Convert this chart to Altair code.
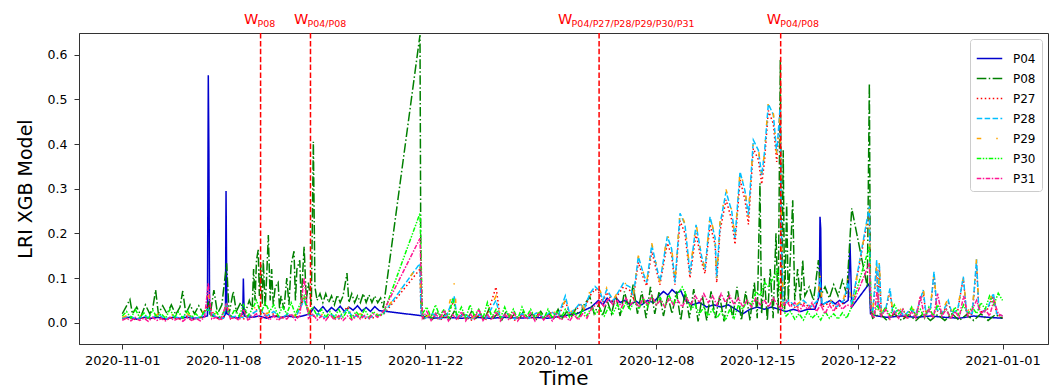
import altair as alt
import pandas as pd

NAMES = ["P04", "P08", "P27", "P28", "P29", "P30", "P31"]
COLORS = ["#0000cd", "#008000", "#ff0000", "#00bfff", "#ffa500", "#00ff00", "#ff1493"]
DASHES = [[1, 0], [9.6, 2.4, 1.5, 2.4], [1.5, 2.5], [5.5, 2.4],
          [4.5, 15, 1.5, 15], [4.5, 1.5, 1.5, 1.5, 1.5, 1.5], [4.5, 1.5, 1.5, 1.5]]

# days since 2020-11-01 00:00
P04_days = [0.0,0.5,1.0,1.5,2.0,2.5,3.0,3.5,4.0,4.5,5.0,5.5,
            5.9,5.96,6.0,6.05,6.5,7.0,7.15,7.19,7.25,7.7,8.0,8.35,8.39,8.45,
            9.0,9.5,10.0,10.5,11.0,11.5,12.0,12.5,13.0,
            13.3,13.6,13.9,14.2,14.5,14.8,15.1,15.4,15.7,16.0,16.3,16.6,16.9,17.2,17.5,17.8,
            18.09,
            20.63,21.5,22.5,23.5,24.5,25.5,26.5,27.5,28.5,29.5,30.5,31.5,32.5,
            33.0,33.3,33.6,33.9,34.2,34.5,34.8,
            35.2,35.6,36.0,36.4,36.8,
            37.2,37.5,37.8,38.1,38.4,38.7,
            39.0,39.5,40.0,40.5,41.0,41.5,42.0,42.5,43.0,43.5,44.0,44.5,45.0,45.5,46.0,46.5,47.0,47.5,48.0,
            48.3,48.35,48.4,48.45,
            48.8,49.1,49.4,49.7,50.0,50.3,
            50.43,50.55,
            51.77,51.85,52.3,53.0,54.0,55.0,56.0,57.0,58.0,59.0,60.0,61.0]
P04_vals = [0.01,0.012,0.008,0.012,0.01,0.012,0.008,0.012,0.01,0.012,0.01,0.012,
            0.015,0.554,0.387,0.02,0.012,0.01,0.02,0.295,0.02,0.012,0.01,0.02,0.099,0.015,
            0.012,0.015,0.01,0.015,0.012,0.015,0.012,0.015,0.02,
            0.035,0.025,0.036,0.024,0.034,0.026,0.037,0.025,0.035,0.028,0.038,0.026,0.034,0.025,0.036,0.027,
            0.026,
            0.016,0.01,0.012,0.01,0.012,0.01,0.012,0.01,0.012,0.01,0.015,0.02,0.035,
            0.05,0.04,0.055,0.045,0.056,0.045,0.05,
            0.04,0.048,0.04,0.05,0.045,
            0.06,0.07,0.062,0.074,0.065,0.072,
            0.05,0.04,0.045,0.035,0.04,0.035,0.04,0.03,0.02,0.03,0.035,0.03,0.035,0.03,0.025,0.03,0.025,0.03,0.03,
            0.06,0.237,0.21,0.04,
            0.045,0.05,0.042,0.05,0.043,0.05,
            0.178,0.035,
            0.088,0.02,0.015,0.012,0.015,0.012,0.015,0.012,0.01,0.015,0.012,0.01]

P08_days = [0.0,0.25,0.53,0.7,1.0,1.3,1.6,1.9,2.1,2.31,
            2.5,2.8,3.1,3.4,3.7,4.0,4.19,4.4,4.7,5.0,
            5.3,5.6,5.96,6.1,6.35,6.6,6.9,7.23,7.4,7.69,
            7.9,8.2,8.5,8.8,9.0,9.1,9.2,9.3,9.42,9.5,
            9.6,9.7,9.77,9.9,10.0,10.12,10.25,10.35,10.46,10.6,
            10.8,10.9,11.0,11.2,11.4,11.55,11.7,11.9,12.0,12.1,
            12.3,12.4,12.5,12.6,12.75,12.9,13.1,13.24,13.35,13.5,
            13.7,13.9,14.1,14.3,14.5,14.7,14.9,15.1,15.3,15.57,
            15.7,15.9,16.1,16.3,16.5,16.7,16.9,17.1,17.3,17.5,
            17.7,17.9,18.09,
            20.63,20.7,20.9,21.2,21.5,21.8,22.1,22.4,22.7,23.0,
            23.3,23.6,23.9,24.2,24.5,24.8,25.1,25.4,25.7,26.0,
            26.3,26.6,26.9,27.2,27.5,27.8,28.1,28.4,28.7,29.0,
            29.3,29.6,29.9,30.2,30.5,30.8,31.1,31.4,31.7,32.0,
            32.4,32.7,33.0,33.3,33.6,33.9,34.2,34.5,34.8,35.1,
            35.4,35.7,36.0,36.3,36.6,36.9,37.2,37.5,37.8,38.1,
            38.4,38.7,39.0,39.3,39.6,39.9,40.2,40.5,40.8,41.1,
            41.4,41.7,42.0,42.3,42.6,42.9,43.2,43.5,43.8,44.0,
            44.19,44.3,44.5,44.7,44.9,45.1,45.3,45.45,45.6,45.7,
            45.8,45.9,46.04,46.15,46.3,46.46,46.6,46.8,47.0,47.15,
            47.3,47.6,47.9,48.24,48.4,48.7,49.0,49.3,49.6,49.9,
            50.2,50.55,
            51.63,51.77,51.85,52.0,52.5,53.0,53.5,54.0,54.5,55.0,55.5,56.0,56.5,57.0,57.5,58.0,58.5,59.0,59.5,60.0,60.5,61.0]
P08_vals = [0.02,0.035,0.052,0.02,0.035,0.015,0.04,0.02,0.03,0.073,
            0.02,0.038,0.02,0.04,0.018,0.035,0.071,0.02,0.04,0.02,
            0.038,0.02,0.045,0.02,0.073,0.02,0.04,0.133,0.02,0.07,
            0.025,0.045,0.02,0.05,0.03,0.12,0.05,0.14,0.163,0.06,
            0.13,0.04,0.14,0.035,0.1,0.196,0.05,0.12,0.04,0.08,
            0.09,0.03,0.06,0.03,0.1,0.04,0.13,0.16,0.05,0.12,
            0.14,0.04,0.11,0.17,0.05,0.09,0.04,0.405,0.08,0.05,
            0.065,0.045,0.065,0.045,0.06,0.04,0.062,0.045,0.06,0.111,
            0.045,0.065,0.045,0.06,0.045,0.065,0.045,0.062,0.045,0.06,
            0.045,0.055,0.033,
            0.644,0.03,0.01,0.02,0.008,0.025,0.01,0.02,0.008,0.025,
            0.01,0.02,0.006,0.025,0.01,0.02,0.008,0.03,0.01,0.02,
            0.006,0.025,0.01,0.02,0.008,0.025,0.01,0.02,0.008,0.025,
            0.01,0.02,0.008,0.03,0.01,0.025,0.012,0.03,0.015,0.04,
            0.058,0.02,0.04,0.015,0.05,0.02,0.06,0.015,0.07,0.03,
            0.085,0.02,0.07,0.01,0.08,0.02,0.07,0.015,0.06,0.02,
            0.07,0.005,0.07,0.01,0.075,0.003,0.06,0.005,0.07,0.01,
            0.06,0.003,0.07,0.01,0.08,0.005,0.07,0.005,0.09,0.01,
            0.312,0.02,0.1,0.005,0.12,0.01,0.2,0.02,0.588,0.05,
            0.386,0.03,0.267,0.05,0.15,0.274,0.05,0.12,0.05,0.14,
            0.06,0.08,0.05,0.14,0.06,0.08,0.055,0.085,0.06,0.095,
            0.065,0.256,
            0.08,0.536,0.03,0.01,0.02,0.005,0.02,0.005,0.018,0.005,0.02,0.005,0.018,0.005,0.02,0.005,0.018,0.005,0.02,0.005,0.018,0.01]

# shared sample times of P27 / P28 / P29
C_days = [0.0,0.5,1.0,1.5,2.0,2.5,3.0,3.5,4.0,4.5,
          5.0,5.5,5.96,6.5,7.0,7.2,7.5,8.0,8.5,9.0,
          9.5,10.0,10.5,11.0,11.5,12.0,12.6,13.0,13.5,14.0,
          14.5,15.0,15.57,16.0,16.5,17.0,17.5,18.09,
          20.63,20.7,21.0,21.5,22.0,22.5,23.0,23.2,23.7,24.2,
          24.7,25.2,25.9,26.2,26.7,27.2,27.7,28.2,28.7,29.2,
          29.7,30.2,30.7,31.0,31.5,31.72,32.0,32.4,32.76,33.11,
          33.3,33.57,34.03,34.4,34.72,35.18,35.42,35.76,36.11,36.34,
          36.69,37.03,37.26,37.77,38.07,38.3,38.65,38.99,39.34,39.76,
          40.15,40.38,40.73,41.08,41.19,41.42,41.84,42.23,42.46,42.81,
          43.15,43.39,43.73,44.08,44.31,44.5,44.77,45.12,45.35,45.58,
          45.7,45.8,46.2,46.7,47.2,47.7,48.2,48.35,48.5,49.0,
          49.5,50.0,50.3,50.55,
          51.77,51.85,52.0,52.28,52.38,52.46,52.6,52.9,53.2,53.4,
          53.8,54.2,54.6,55.0,55.5,55.7,56.0,56.25,56.45,56.8,
          57.24,57.5,57.9,58.28,58.5,58.9,59.2,59.35,59.7,60.0,
          60.36,60.6,61.0]
P28_vals = [0.01,0.015,0.008,0.015,0.01,0.018,0.008,0.015,0.01,0.018,
            0.008,0.015,0.03,0.012,0.01,0.04,0.012,0.015,0.01,0.02,
            0.03,0.015,0.025,0.01,0.02,0.012,0.05,0.015,0.02,0.012,
            0.018,0.01,0.03,0.012,0.018,0.01,0.015,0.02,
            0.133,0.02,0.01,0.02,0.008,0.018,0.06,0.01,0.02,0.008,
            0.018,0.01,0.05,0.01,0.02,0.008,0.02,0.01,0.022,0.012,
            0.025,0.015,0.06,0.02,0.035,0.044,0.03,0.065,0.081,0.07,
            0.05,0.074,0.05,0.07,0.088,0.08,0.06,0.148,0.11,0.09,
            0.174,0.125,0.092,0.193,0.165,0.09,0.245,0.22,0.11,0.219,
            0.148,0.12,0.237,0.19,0.1,0.22,0.293,0.25,0.19,0.338,
            0.295,0.24,0.409,0.386,0.33,0.38,0.49,0.465,0.38,0.48,
            0.15,0.04,0.05,0.035,0.05,0.035,0.05,0.1,0.04,0.05,
            0.035,0.05,0.09,0.04,
            0.26,0.05,0.02,0.14,0.03,0.133,0.02,0.03,0.077,0.02,
            0.03,0.015,0.03,0.02,0.073,0.02,0.03,0.114,0.03,0.02,
            0.05,0.02,0.03,0.103,0.025,0.02,0.142,0.03,0.025,0.035,
            0.066,0.02,0.015]
P29_vals = [0.012,0.018,0.01,0.02,0.012,0.02,0.01,0.018,0.012,0.02,
            0.01,0.018,0.06,0.015,0.012,0.05,0.015,0.018,0.012,0.03,
            0.04,0.02,0.03,0.012,0.025,0.015,0.06,0.02,0.025,0.015,
            0.02,0.012,0.04,0.015,0.02,0.012,0.018,0.022,
            0.133,0.025,0.012,0.022,0.01,0.02,0.088,0.012,0.022,0.01,
            0.02,0.012,0.06,0.012,0.022,0.01,0.022,0.012,0.025,0.015,
            0.028,0.018,0.05,0.022,0.038,0.045,0.032,0.07,0.085,0.072,
            0.055,0.078,0.052,0.072,0.09,0.082,0.062,0.15,0.112,0.088,
            0.178,0.128,0.09,0.198,0.168,0.092,0.25,0.222,0.112,0.222,
            0.15,0.118,0.24,0.192,0.098,0.225,0.298,0.252,0.188,0.34,
            0.298,0.238,0.405,0.39,0.332,0.378,0.495,0.468,0.378,0.47,
            0.16,0.045,0.052,0.04,0.052,0.038,0.055,0.11,0.045,0.052,
            0.04,0.055,0.1,0.042,
            0.255,0.055,0.025,0.13,0.035,0.14,0.025,0.035,0.07,0.025,
            0.035,0.02,0.035,0.025,0.08,0.025,0.035,0.11,0.035,0.025,
            0.055,0.025,0.035,0.1,0.03,0.025,0.145,0.035,0.03,0.04,
            0.07,0.025,0.02]
P27_vals = [0.008,0.012,0.006,0.012,0.008,0.015,0.006,0.012,0.008,0.015,
            0.006,0.012,0.04,0.01,0.008,0.045,0.01,0.012,0.008,0.018,
            0.035,0.012,0.02,0.008,0.018,0.01,0.055,0.012,0.018,0.01,
            0.015,0.008,0.035,0.01,0.015,0.008,0.012,0.018,
            0.12,0.018,0.008,0.018,0.006,0.015,0.05,0.008,0.018,0.006,
            0.015,0.008,0.08,0.008,0.018,0.006,0.018,0.008,0.02,0.01,
            0.022,0.012,0.05,0.018,0.03,0.04,0.028,0.06,0.075,0.065,
            0.045,0.068,0.045,0.065,0.08,0.072,0.055,0.135,0.1,0.082,
            0.16,0.115,0.085,0.178,0.15,0.085,0.228,0.2,0.1,0.2,
            0.135,0.11,0.22,0.175,0.09,0.205,0.275,0.23,0.175,0.32,
            0.275,0.22,0.39,0.365,0.31,0.36,0.475,0.445,0.36,0.465,
            0.14,0.038,0.045,0.032,0.045,0.032,0.045,0.09,0.035,0.045,
            0.032,0.045,0.085,0.038,
            0.25,0.045,0.018,0.12,0.028,0.125,0.018,0.028,0.07,0.018,
            0.028,0.012,0.028,0.018,0.068,0.018,0.028,0.11,0.028,0.018,
            0.045,0.018,0.028,0.1,0.022,0.018,0.13,0.028,0.022,0.032,
            0.06,0.018,0.012]

# shared sample times of P30 / P31
L_days = [0.0,0.3,0.6,0.9,1.2,1.5,1.8,2.1,2.4,2.7,
          3.0,3.3,3.6,3.9,4.2,4.5,4.8,5.1,5.4,5.7,
          5.96,6.2,6.5,6.8,7.19,7.5,7.8,8.1,8.4,8.7,
          9.0,9.3,9.6,9.9,10.2,10.5,10.8,11.1,11.4,11.7,
          12.0,12.3,12.6,12.9,13.2,13.5,13.8,14.1,14.4,14.7,
          15.0,15.3,15.6,15.9,16.2,16.5,16.8,17.1,17.4,17.7,
          18.09,
          20.63,20.8,21.1,21.4,21.7,22.0,22.3,22.6,22.9,23.2,
          23.5,23.8,24.1,24.4,24.7,25.0,25.3,25.6,25.9,26.2,
          26.5,26.8,27.1,27.4,27.7,28.0,28.3,28.6,28.9,29.2,
          29.5,29.8,30.1,30.4,30.7,31.0,31.3,31.6,31.9,32.2,
          32.5,32.8,33.1,33.4,33.7,34.0,34.3,34.6,34.9,35.2,
          35.5,35.8,36.1,36.4,36.7,37.0,37.3,37.6,37.9,38.2,
          38.5,38.8,39.1,39.4,39.7,40.0,40.3,40.6,40.9,41.2,
          41.5,41.8,42.1,42.4,42.7,43.0,43.3,43.6,43.9,44.2,
          44.5,44.8,45.1,45.4,45.7,46.0,46.3,46.6,46.9,47.2,
          47.5,47.8,48.1,48.4,48.7,49.0,49.3,49.6,49.9,50.2,
          50.55,
          51.77,51.9,52.1,52.3,52.6,52.9,53.2,53.5,53.8,54.1,
          54.4,54.7,55.0,55.3,55.6,55.9,56.2,56.5,56.8,57.1,
          57.4,57.7,58.0,58.3,58.6,58.9,59.2,59.5,59.8,60.1,
          60.4,60.7,61.0]
P30_vals = [0.015,0.025,0.01,0.03,0.012,0.022,0.008,0.028,0.012,0.02,
            0.01,0.03,0.012,0.024,0.01,0.028,0.012,0.02,0.01,0.026,
            0.03,0.012,0.025,0.01,0.035,0.012,0.03,0.015,0.04,0.015,
            0.03,0.05,0.02,0.045,0.025,0.04,0.015,0.035,0.02,0.045,
            0.018,0.04,0.06,0.02,0.035,0.015,0.03,0.012,0.025,0.01,
            0.03,0.012,0.028,0.01,0.025,0.012,0.03,0.012,0.025,0.015,
            0.02,
            0.245,0.02,0.035,0.012,0.04,0.015,0.03,0.01,0.055,0.015,
            0.035,0.01,0.04,0.015,0.03,0.01,0.045,0.012,0.03,0.01,
            0.035,0.012,0.03,0.008,0.035,0.012,0.03,0.01,0.025,0.008,
            0.03,0.01,0.025,0.01,0.03,0.012,0.025,0.01,0.03,0.015,
            0.035,0.02,0.03,0.015,0.035,0.02,0.04,0.025,0.045,0.03,
            0.05,0.03,0.055,0.035,0.06,0.04,0.055,0.035,0.06,0.04,
            0.065,0.08,0.06,0.03,0.04,0.02,0.035,0.015,0.03,0.01,
            0.025,0.005,0.03,0.01,0.04,0.03,0.05,0.04,0.07,0.06,
            0.09,0.08,0.1,0.117,0.04,0.015,0.025,0.008,0.02,0.006,
            0.025,0.01,0.02,0.006,0.025,0.01,0.02,0.008,0.022,0.01,
            0.036,
            0.17,0.03,0.015,0.04,0.02,0.035,0.015,0.04,0.02,0.03,
            0.012,0.035,0.015,0.03,0.01,0.035,0.015,0.04,0.02,0.03,
            0.012,0.035,0.015,0.04,0.02,0.035,0.02,0.045,0.03,0.06,
            0.04,0.066,0.05]
P31_vals = [0.005,0.01,0.004,0.012,0.005,0.01,0.003,0.012,0.005,0.009,
            0.004,0.012,0.005,0.01,0.003,0.011,0.005,0.01,0.004,0.012,
            0.088,0.008,0.012,0.005,0.04,0.008,0.012,0.005,0.03,0.006,
            0.012,0.02,0.008,0.018,0.006,0.015,0.005,0.014,0.008,0.02,
            0.006,0.016,0.1,0.01,0.02,0.006,0.015,0.005,0.018,0.006,
            0.016,0.005,0.015,0.006,0.018,0.008,0.016,0.01,0.02,0.012,
            0.025,
            0.189,0.01,0.025,0.005,0.02,0.008,0.028,0.004,0.018,0.006,
            0.025,0.004,0.02,0.008,0.03,0.005,0.018,0.006,0.025,0.004,
            0.02,0.006,0.025,0.004,0.018,0.008,0.022,0.004,0.02,0.006,
            0.018,0.004,0.02,0.006,0.015,0.004,0.018,0.006,0.02,0.01,
            0.03,0.04,0.05,0.035,0.055,0.04,0.05,0.035,0.055,0.04,
            0.05,0.035,0.055,0.04,0.06,0.04,0.05,0.035,0.055,0.04,
            0.05,0.035,0.055,0.04,0.06,0.045,0.065,0.045,0.06,0.04,
            0.065,0.045,0.06,0.04,0.055,0.035,0.05,0.035,0.055,0.04,
            0.05,0.035,0.055,0.04,0.03,0.05,0.035,0.045,0.025,0.04,
            0.03,0.045,0.025,0.04,0.02,0.04,0.025,0.045,0.03,0.04,
            0.036,
            0.133,0.02,0.01,0.07,0.015,0.03,0.008,0.025,0.01,0.03,
            0.008,0.025,0.01,0.06,0.012,0.03,0.01,0.065,0.015,0.03,
            0.008,0.025,0.012,0.06,0.015,0.03,0.05,0.02,0.03,0.015,
            0.05,0.02,0.015]

# warning events (red dashed lines) and their labels
W_times = ["2020-11-10 14:00", "2020-11-14 01:00", "2020-12-04 01:00", "2020-12-16 15:00"]
W_label_left = ["2020-11-09 10:20", "2020-11-12 21:40", "2020-12-01 04:50", "2020-12-15 15:50"]
W_subs = ["P08", "P04/P08", "P04/P27/P28/P29/P30/P31", "P04/P08"]

START = pd.Timestamp("2020-11-01")
series = [("P04", P04_days, P04_vals), ("P08", P08_days, P08_vals),
          ("P27", C_days, P27_vals), ("P28", C_days, P28_vals), ("P29", C_days, P29_vals),
          ("P30", L_days, P30_vals), ("P31", L_days, P31_vals)]
rows = []
for name, days, vals in series:
    assert len(days) == len(vals), (name, len(days), len(vals))
    for d, v in zip(days, vals):
        rows.append({"t": START + pd.Timedelta(days=d), "v": v, "s": name})
df = pd.DataFrame(rows)

FONT = "DejaVu Sans"
x_enc = alt.X("t:T", title="Time",
              scale=alt.Scale(domain=[alt.DateTime(year=2020, month=10, date=29),
                                      alt.DateTime(year=2021, month=1, date=4, hours=3, minutes=36)]),
              axis=alt.Axis(values=[alt.DateTime(year=2020, month=11, date=1),
                                    alt.DateTime(year=2020, month=11, date=8),
                                    alt.DateTime(year=2020, month=11, date=15),
                                    alt.DateTime(year=2020, month=11, date=22),
                                    alt.DateTime(year=2020, month=12, date=1),
                                    alt.DateTime(year=2020, month=12, date=8),
                                    alt.DateTime(year=2020, month=12, date=15),
                                    alt.DateTime(year=2020, month=12, date=22),
                                    alt.DateTime(year=2021, month=1, date=1)],
                            format="%Y-%m-%d", labelAngle=0, labelFontSize=13,
                            labelOverlap=False, labelFlush=False, tickSize=5, labelPadding=5,
                            titleFontSize=20, titleBaseline="alphabetic", titleY=40))
y_enc = alt.Y("v:Q", title="LRI XGB Model",
              scale=alt.Scale(domain=[-0.0477, 0.6485], nice=False, zero=False),
              axis=alt.Axis(values=[0.0, 0.1, 0.2, 0.3, 0.4, 0.5, 0.6], format=".1f",
                            labelFontSize=12.5, tickSize=5, labelPadding=7,
                            titleFontSize=19, titlePadding=12))
leg = alt.Legend(title=None, orient="top-right", offset=6, symbolType="stroke",
                 symbolSize=650, symbolStrokeWidth=1.5, labelFontSize=12, labelFont=FONT,
                 labelColor="black", padding=6, rowPadding=0, labelOffset=10,
                 strokeColor="#cccccc", fillColor="white", cornerRadius=3)
color_enc = alt.Color("s:N", scale=alt.Scale(domain=NAMES, range=COLORS), legend=leg)
dash_enc = alt.StrokeDash("s:N", scale=alt.Scale(domain=NAMES, range=DASHES), legend=leg)

layers = []
for n in NAMES:
    layers.append(alt.Chart(df).transform_filter(alt.datum.s == n)
                  .mark_line(strokeWidth=1.5)
                  .encode(x=x_enc, y=y_enc, color=color_enc, strokeDash=dash_enc))

wdf = pd.DataFrame({"t": pd.to_datetime(W_times)})
rules = alt.Chart(wdf).mark_rule(color="#ff0000", strokeWidth=1.5, strokeDash=[5.5, 2.4]).encode(x="t:T")

ldf = pd.DataFrame({"t": pd.to_datetime(W_label_left), "sub": W_subs})
w_main = alt.Chart(ldf).mark_text(text="W", align="left", baseline="alphabetic", fontSize=14.5,
                                   font=FONT, color="#ff0000").encode(x="t:T", y=alt.value(-9))
w_sub = alt.Chart(ldf).mark_text(align="left", baseline="alphabetic", fontSize=9.5, dx=13.5,
                                  font=FONT, color="#ff0000").encode(x="t:T", y=alt.value(-5.7), text="sub:N")

chart = (alt.layer(*layers, rules, w_main, w_sub)
         .properties(width=969, height=311,
                     autosize=alt.AutoSizeParams(type="none"),
                     padding={"left": 79, "top": 33, "right": 13, "bottom": 45})
         .configure_view(stroke="#333333", strokeWidth=1)
         .configure_axis(grid=False, domainColor="#333333", tickColor="#333333",
                         labelColor="black", titleColor="black", labelFont=FONT,
                         titleFont=FONT, titleFontWeight="normal"))

chart.save("out.html", embed_options={"renderer": "svg", "actions": False})
